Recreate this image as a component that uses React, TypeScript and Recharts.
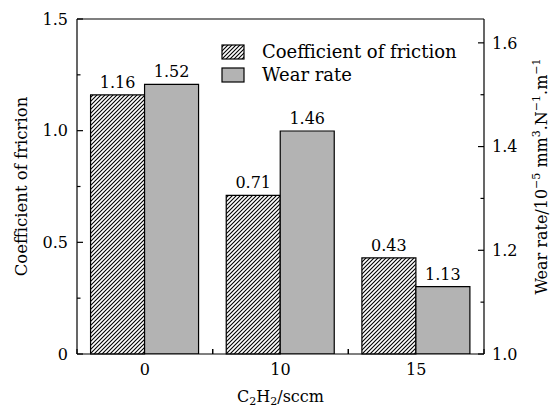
import React from 'react';
import { BarChart, Bar, XAxis, YAxis, LabelList, Legend, ReferenceLine } from 'recharts';

const categories = ['0', '10', '15'];
const frictionValues = [1.16, 0.71, 0.43];
const wearValues = [1.52, 1.43, 1.13];
const frictionLabels = ['1.16', '0.71', '0.43'];
const wearLabels = ['1.52', '1.46', '1.13'];

const leftMajor = [0, 0.5, 1.0, 1.5];
const leftMinor = [0.25, 0.75, 1.25];
const rightMajor = [1.0, 1.2, 1.4, 1.6];
const rightMinor = [1.1, 1.3, 1.5];

const FONT = "'DejaVu Serif', serif";
const GREY = '#b3b3b3';

const data = categories.map((c, i) => ({
  name: c,
  friction: frictionValues[i],
  wear: wearValues[i],
  frictionLabel: frictionLabels[i],
  wearLabel: wearLabels[i],
}));

const leftTicks = [...leftMajor, ...leftMinor].sort((a, b) => a - b);
const rightTicks = [...rightMajor, ...rightMinor].sort((a, b) => a - b);

const LeftTick = (props: any) => {
  const { x, y, payload } = props;
  const major = leftMajor.includes(payload.value);
  return (
    <g>
      <line x1={x} x2={x + (major ? 6 : 3.5)} y1={y} y2={y} stroke="#000" strokeWidth={1.2} />
      {major && (
        <text x={x - 9} y={y} dy="0.36em" textAnchor="end" fontFamily={FONT} fontSize={16} fill="#000">
          {payload.value === 0 ? '0' : payload.value.toFixed(1)}
        </text>
      )}
    </g>
  );
};

const RightTick = (props: any) => {
  const { x, y, payload } = props;
  const major = rightMajor.includes(payload.value);
  return (
    <g>
      <line x1={x} x2={x - (major ? 6 : 3.5)} y1={y} y2={y} stroke="#000" strokeWidth={1.2} />
      {major && (
        <text x={x + 8} y={y} dy="0.36em" textAnchor="start" fontFamily={FONT} fontSize={16} fill="#000">
          {payload.value.toFixed(1)}
        </text>
      )}
    </g>
  );
};

const BottomTick = (props: any) => {
  const { x, y, payload } = props;
  const off = payload.offset || 0;
  return (
    <g>
      {off > 0 && (
        <>
          <line x1={x - off} x2={x - off} y1={y} y2={y - 5} stroke="#000" strokeWidth={1.2} />
          <line x1={x + off} x2={x + off} y1={y} y2={y - 5} stroke="#000" strokeWidth={1.2} />
        </>
      )}
      <text x={x} y={y + 21} textAnchor="middle" fontFamily={FONT} fontSize={16} fill="#000">
        {payload.value}
      </text>
    </g>
  );
};

const XTitle = (props: any) => {
  const { viewBox } = props;
  const cx = viewBox.x + viewBox.width / 2;
  return (
    <text x={cx} y={viewBox.y + 48} textAnchor="middle" fontFamily={FONT} fontSize={16} fill="#000">
      C<tspan fontSize={11} dy={3}>2</tspan>
      <tspan dy={-3}>H</tspan>
      <tspan fontSize={11} dy={3}>2</tspan>
      <tspan dy={-3}>/sccm</tspan>
    </text>
  );
};

const LeftTitle = (props: any) => {
  const { viewBox } = props;
  const x = viewBox.x + viewBox.width - 50;
  const y = viewBox.y + viewBox.height / 2;
  return (
    <text x={x} y={y} transform={`rotate(-90 ${x} ${y})`} textAnchor="middle" fontFamily={FONT} fontSize={16.5} fill="#000">
      Coefficient of fricrion
    </text>
  );
};

const RightTitle = (props: any) => {
  const { viewBox } = props;
  const x = viewBox.x + 63;
  const y = viewBox.y + viewBox.height / 2 - 10;
  return (
    <text x={x} y={y} transform={`rotate(-90 ${x} ${y})`} textAnchor="middle" fontFamily={FONT} fontSize={16} fill="#000">
      Wear rate/10<tspan fontSize={11} dy={-7}>−5</tspan>
      <tspan dy={7}> mm</tspan>
      <tspan fontSize={11} dy={-7}>3</tspan>
      <tspan dy={7}>.N</tspan>
      <tspan fontSize={11} dy={-7}>−1</tspan>
      <tspan dy={7}>.m</tspan>
      <tspan fontSize={11} dy={-7}>−1</tspan>
    </text>
  );
};

const HatchPattern = ({ id }: { id: string }) => (
  <pattern id={id} patternUnits="userSpaceOnUse" width={4} height={4}>
    <rect width={4} height={4} fill="#fff" />
    <path d="M-1,1 l2,-2 M0,4 l4,-4 M3,5 l2,-2" stroke="#000" strokeWidth={1.1} />
  </pattern>
);

const legendItems = [
  { label: 'Coefficient of friction', fill: 'url(#hatchLegend)' },
  { label: 'Wear rate', fill: GREY },
];

const LegendContent = () => (
  <div style={{ fontFamily: FONT, fontSize: 18, color: '#000' }}>
    {legendItems.map((item) => (
      <div key={item.label} style={{ display: 'flex', alignItems: 'center', height: 23 }}>
        <svg width={24} height={16} style={{ display: 'block' }}>
          <defs>
            <HatchPattern id="hatchLegend" />
          </defs>
          <rect x={1} y={1} width={22} height={14} fill={item.fill} stroke="#000" strokeWidth={1.2} />
        </svg>
        <span style={{ marginLeft: 17, whiteSpace: 'nowrap' }}>{item.label}</span>
      </div>
    ))}
  </div>
);

export default function App() {
  return (
    <div style={{ position: 'absolute', left: 0, top: 0, width: 552, height: 409, background: '#fff' }}>
      <BarChart
        width={552}
        height={409}
        data={data}
        margin={{ top: 19, right: 67, bottom: 54, left: 76 }}
        barCategoryGap="10%"
        barGap={0}
      >
        <defs>
          <HatchPattern id="hatch" />
        </defs>
        <XAxis
          dataKey="name"
          height={1}
          tickSize={0}
          tickMargin={0}
          tickLine={false}
          axisLine={{ stroke: '#000', strokeWidth: 1.2 }}
          tick={<BottomTick />}
          interval={0}
          label={<XTitle />}
        />
        <YAxis
          yAxisId="left"
          orientation="left"
          width={1}
          domain={[0, 1.5]}
          ticks={leftTicks}
          interval={0}
          tickSize={0}
          tickMargin={0}
          tickLine={false}
          axisLine={{ stroke: '#000', strokeWidth: 1.2 }}
          tick={<LeftTick />}
          label={<LeftTitle />}
        />
        <YAxis
          yAxisId="right"
          orientation="right"
          width={1}
          domain={[1.0, 1.646]}
          allowDataOverflow
          ticks={rightTicks}
          interval={0}
          tickSize={0}
          tickMargin={0}
          tickLine={false}
          axisLine={{ stroke: '#000', strokeWidth: 1.2 }}
          tick={<RightTick />}
          label={<RightTitle />}
        />
        <ReferenceLine yAxisId="left" y={1.5} stroke="#000" strokeWidth={1.2} />
        <Legend
          layout="vertical"
          align="center"
          verticalAlign="middle"
          content={<LegendContent />}
          wrapperStyle={{ position: 'absolute', left: 221, top: 40, width: 'auto', height: 'auto' }}
        />
        <Bar
          yAxisId="left"
          dataKey="friction"
          name="Coefficient of friction"
          fill="url(#hatch)"
          stroke="#000"
          strokeWidth={1.2}
          isAnimationActive={false}
        >
          <LabelList dataKey="frictionLabel" position="top" offset={7} fontFamily={FONT} fontSize={16} fill="#000" />
        </Bar>
        <Bar
          yAxisId="right"
          dataKey="wear"
          name="Wear rate"
          fill={GREY}
          stroke="#000"
          strokeWidth={1.2}
          isAnimationActive={false}
        >
          <LabelList dataKey="wearLabel" position="top" offset={7} fontFamily={FONT} fontSize={16} fill="#000" />
        </Bar>
      </BarChart>
    </div>
  );
}
